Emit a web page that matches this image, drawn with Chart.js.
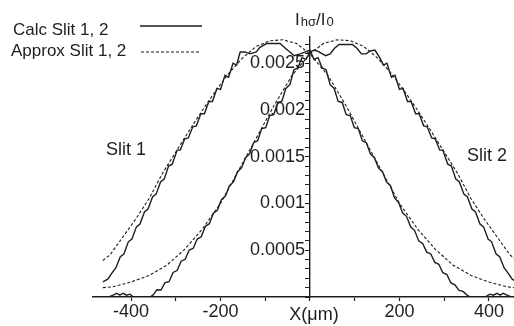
<!DOCTYPE html>
<html>
<head>
<meta charset="utf-8">
<script src="https://cdn.jsdelivr.net/npm/chart.js@4.4.1/dist/chart.umd.min.js"></script>
<style>
html,body{margin:0;padding:0;background:#fff;}
#wrap{width:514px;height:326px;position:relative;}
</style>
</head>
<body>
<div id="wrap"><canvas id="c" width="514" height="326"></canvas></div>
<script>
// ---- data ----
const slit1CalcX = [-463,-460,-452,-442,-434,-424,-416,-406,-398,-388,-380,-370,-362,-352,-344,-334,-326,-316,-308,-297,-290,-280,-272,-262,-254,-244,-236,-226,-218,-208,-200,-190,-182,-172,-164,-156,-145,-134,-120,-112,-97,-80,-67,-55,-45,-35,-22,-10,0,9,18,27,36,45,54,63,72,81,90,99,108,117,126,135,144,153,162,171,180,189,198,207,216,225,234,243,252,261,270,279,288,297,306,315,324,333,342,351,358,390,395,402,410,418,425,432,440,450,470];
const slit1CalcY = [0.00016,0.00017,0.00019,0.00026,0.00031,0.00043,0.00046,0.00059,0.00062,0.00075,0.00078,0.00091,0.00094,0.00107,0.0011,0.00123,0.00126,0.0014,0.00142,0.00157,0.00157,0.00169,0.0017,0.00182,0.00183,0.00196,0.00196,0.00209,0.00209,0.00223,0.00222,0.00237,0.00235,0.0025,0.00248,0.00262,0.00262,0.0026,0.00262,0.00267,0.00271,0.00271,0.00271,0.00266,0.00262,0.00258,0.0026,0.00262,0.00264,0.00254,0.00256,0.00245,0.00243,0.00227,0.00223,0.00209,0.00208,0.00195,0.00194,0.00181,0.0018,0.00167,0.00165,0.00153,0.00149,0.00138,0.00134,0.00123,0.00119,0.00106,0.00101,0.0009,0.00086,0.00075,0.00071,0.0006,0.00057,0.00048,0.00046,0.00037,0.00035,0.00026,0.00024,0.00015,0.00013,0.00007,0.00006,0.00002,0,0,0.00001,0.00003,0.00002,0.00004,0.00002,0.00004,0.00002,0,0];

const slit1ApproxX = [-463,-447,-420,-390,-360,-330,-300,-270,-240,-210,-180,-150,-120,-90,-60,-30,0,40,80,120,160,200,240,280,320,360,400,440,470];
const slit1ApproxY = [0.00039,0.00045,0.00063,0.00083,0.00105,0.00132,0.00155,0.00178,0.002,0.00221,0.0024,0.00256,0.00268,0.00274,0.00275,0.00271,0.0026,0.00237,0.00205,0.0017,0.00135,0.001,0.00073,0.00051,0.00034,0.00023,0.00016,0.00011,0.00009];

const slit2CalcX = [-463,-450,-440,-432,-425,-418,-410,-402,-395,-358,-351,-342,-333,-324,-315,-306,-297,-288,-279,-270,-261,-252,-243,-234,-225,-216,-207,-198,-189,-180,-171,-162,-153,-144,-135,-126,-117,-108,-99,-90,-81,-72,-63,-54,-45,-36,-27,-18,-9,0,10,20,35,45,55,65,80,95,105,115,125,135,145,156,164,172,182,190,200,208,218,226,236,244,254,262,272,280,290,297,308,316,326,334,344,352,362,370,380,388,398,406,416,424,434,442,452,460,470];
const slit2CalcY = [0,0,0.00002,0.00004,0.00002,0.00004,0.00002,0.00003,0,0,0.00002,0.000078,0.000075,0.000153,0.000163,0.000263,0.000283,0.000383,0.000403,0.000502,0.000521,0.00062,0.000643,0.000754,0.000784,0.000895,0.000927,0.00104,0.00108,0.00119,0.00123,0.00134,0.00138,0.00149,0.00153,0.00165,0.00167,0.0018,0.00181,0.00194,0.00195,0.00208,0.00209,0.00223,0.00227,0.00243,0.00245,0.00256,0.00254,0.00262,0.00264,0.00262,0.00258,0.0026,0.00266,0.0027,0.0027,0.0027,0.00266,0.0026,0.0026,0.00263,0.00264,0.00256,0.00248,0.0025,0.00235,0.00237,0.00222,0.00223,0.00209,0.00209,0.00196,0.00196,0.00183,0.00182,0.0017,0.00169,0.00157,0.00157,0.00142,0.0014,0.00126,0.00123,0.0011,0.00107,0.00094,0.00091,0.00078,0.00075,0.00062,0.00059,0.00046,0.00043,0.00031,0.00026,0.00019,0.00017,0.00013];

const slit2ApproxX = [-463,-440,-400,-360,-320,-280,-240,-200,-160,-120,-80,-40,0,30,60,90,120,150,180,210,240,270,300,330,360,390,420,447,470];
const slit2ApproxY = [0.0001,0.00011,0.00016,0.00023,0.00034,0.00051,0.00073,0.001,0.00135,0.0017,0.00205,0.00237,0.0026,0.00271,0.00275,0.00274,0.00268,0.00256,0.0024,0.00221,0.002,0.00178,0.00155,0.00132,0.00105,0.00083,0.00063,0.00045,0.00036];

const xTickLabels = [-400, -200, 200, 400];
const yTickLabels = [0.0005, 0.001, 0.0015, 0.002, 0.0025];
const legendLabels = ['Calc Slit 1, 2', 'Approx Slit 1, 2'];
const curveLabels = ['Slit 1', 'Slit 2'];

// ---- chart ----
const INK = '#1e1e1e';
const FONT = "'Liberation Sans', Arial, sans-serif";
const toPts = (xs, ys) => xs.map((x, i) => ({x: x, y: ys[i]}));
const solid = {borderColor: INK, borderWidth: 1.4, pointRadius: 0, showLine: true, tension: 0, fill: false};
const dashed = {borderColor: INK, borderWidth: 1.1, borderDash: [3, 2], pointRadius: 0, showLine: true, tension: 0, fill: false};

const textPlugin = {
  id: 'texts',
  afterDraw(chart) {
    const ctx = chart.ctx;
    ctx.save();
    ctx.fillStyle = INK;
    ctx.strokeStyle = INK;
    ctx.textBaseline = 'middle';
    ctx.textAlign = 'left';
    ctx.font = '17px ' + FONT;
    // legend
    ctx.fillText(legendLabels[0], 13, 30);
    ctx.fillText(legendLabels[1], 11, 51);
    ctx.lineWidth = 1.6; ctx.setLineDash([]);
    ctx.beginPath(); ctx.moveTo(140, 26); ctx.lineTo(202, 26); ctx.stroke();
    ctx.lineWidth = 1.1; ctx.setLineDash([3, 2]);
    ctx.beginPath(); ctx.moveTo(141, 52); ctx.lineTo(201, 52); ctx.stroke();
    ctx.setLineDash([]);
    // curve labels
    ctx.font = '18px ' + FONT;
    ctx.fillText(curveLabels[0], 106, 150);
    ctx.fillText(curveLabels[1], 467, 156);
    // x title
    ctx.textAlign = 'center';
    ctx.fillText('X(\u03bcm)', 314, 315);
    // y title  I_{hσ}/I_0
    ctx.textAlign = 'left';
    ctx.textBaseline = 'alphabetic';
    let x = 295; const base = 25;
    ctx.font = '17px ' + FONT; ctx.fillText('I', x, base); x += ctx.measureText('I').width + 1;
    ctx.font = '13px ' + FONT; ctx.fillText('h\u03c3', x, base + 1); x += ctx.measureText('h\u03c3').width;
    ctx.font = '17px ' + FONT; ctx.fillText('/I', x, base); x += ctx.measureText('/I').width + 1;
    ctx.font = '13px ' + FONT; ctx.fillText('0', x, base + 1);
    ctx.restore();
  }
};

new Chart(document.getElementById('c'), {
  type: 'scatter',
  data: {
    datasets: [
      Object.assign({label: 'Calc Slit 1', data: toPts(slit1CalcX, slit1CalcY)}, solid),
      Object.assign({label: 'Calc Slit 2', data: toPts(slit2CalcX, slit2CalcY)}, solid),
      Object.assign({label: 'Approx Slit 1', data: toPts(slit1ApproxX, slit1ApproxY)}, dashed),
      Object.assign({label: 'Approx Slit 2', data: toPts(slit2ApproxX, slit2ApproxY)}, dashed)
    ]
  },
  options: {
    responsive: false,
    animation: false,
    devicePixelRatio: 1,
    layout: {padding: {left: 93, right: 0, top: 37, bottom: 0}},
    plugins: {legend: {display: false}, tooltip: {enabled: false}},
    scales: {
      x: {
        type: 'linear', min: -485, max: 456,
        afterFit(s) { s.height = 29; },
        border: {display: true, color: INK, width: 1.6},
        grid: {drawOnChartArea: false, drawTicks: true, tickLength: 4, color: INK, tickWidth: 1.2},
        ticks: {
          stepSize: 100, includeBounds: false, autoSkip: false, maxRotation: 0,
          padding: 0, color: INK, font: {family: FONT, size: 18},
          callback: (v) => xTickLabels.includes(Math.round(v)) ? String(Math.round(v)) : ''
        }
      },
      y: {
        type: 'linear', min: 0, max: 0.00278,
        position: {x: 0},
        border: {display: true, color: INK, width: 1.4},
        grid: {drawOnChartArea: false, drawTicks: true, tickLength: 4, color: INK, tickWidth: 1},
        ticks: {
          stepSize: 0.0001, includeBounds: false, autoSkip: false, padding: 2,
          color: INK, font: {family: FONT, size: 18},
          callback: (v) => {
            const hit = yTickLabels.find(t => Math.abs(t - v) < 1e-8);
            return hit !== undefined ? String(hit) + ' ' : '';
          }
        }
      }
    }
  },
  plugins: [textPlugin]
});
</script>
</body>
</html>
